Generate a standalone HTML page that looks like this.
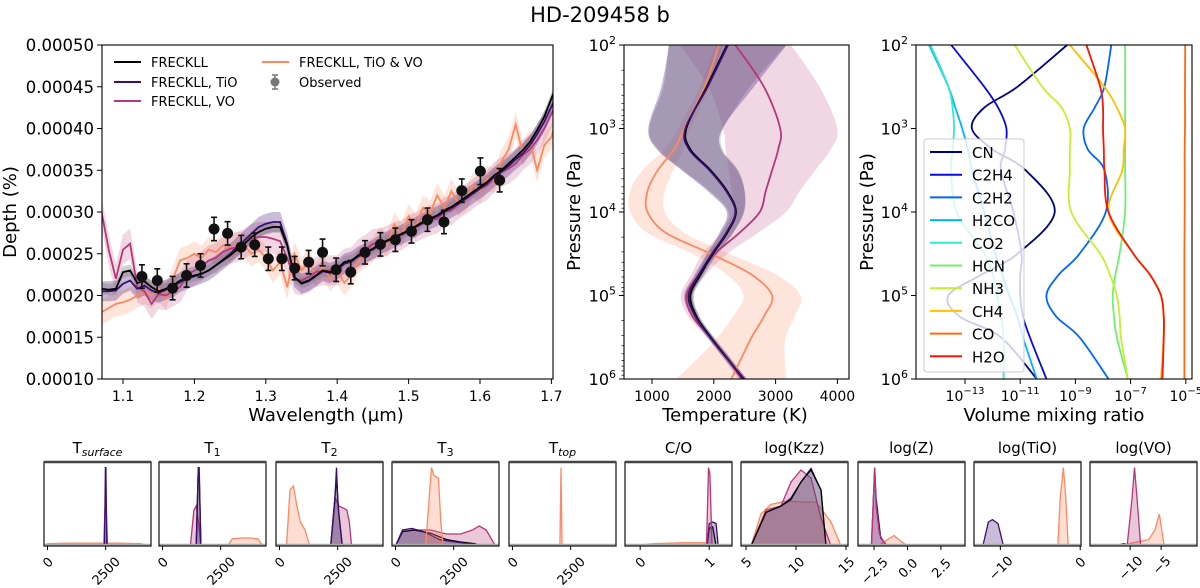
<!DOCTYPE html>
<html><head><meta charset="utf-8"><style>
html,body{margin:0;padding:0;background:#fff;}
svg{display:block;font-family:"DejaVu Sans","Liberation Sans",sans-serif;}
</style></head><body>
<svg id="fig" width="1200" height="588" viewBox="0 0 1200 588" xmlns="http://www.w3.org/2000/svg">
<text x="600" y="22" text-anchor="middle" font-size="21">HD-209458 b</text>
</svg>
<script>
// ---------- Panel 1: spectrum data ----------
const wavelengths=[1.07,1.08,1.09,1.10,1.11,1.12,1.13,1.14,1.15,1.16,1.17,1.18,1.19,1.20,1.21,1.22,1.23,1.24,1.25,1.26,1.27,1.28,1.29,1.30,1.31,1.32,1.33,1.34,1.35,1.36,1.37,1.38,1.39,1.40,1.41,1.42,1.43,1.44,1.45,1.46,1.47,1.48,1.49,1.50,1.51,1.52,1.53,1.54,1.55,1.56,1.57,1.58,1.59,1.60,1.61,1.62,1.63,1.64,1.65,1.66,1.67,1.68,1.69,1.70,1.71];
const depthFreckll=[2.08,2.07,2.08,2.28,2.30,2.15,2.17,2.10,2.05,2.08,2.12,2.18,2.22,2.24,2.26,2.30,2.36,2.42,2.48,2.55,2.62,2.70,2.76,2.80,2.82,2.82,2.60,2.22,2.15,2.18,2.24,2.30,2.28,2.32,2.40,2.42,2.48,2.52,2.56,2.62,2.66,2.70,2.74,2.78,2.83,2.88,2.92,2.96,3.02,3.06,3.12,3.18,3.24,3.30,3.36,3.44,3.50,3.58,3.66,3.74,3.84,3.98,4.14,4.36,4.58];
const depthTiO=[2.05,2.05,2.06,2.14,2.18,2.08,2.12,2.06,2.03,2.07,2.10,2.16,2.20,2.23,2.26,2.30,2.36,2.43,2.50,2.58,2.66,2.74,2.82,2.86,2.88,2.88,2.62,2.22,2.14,2.17,2.23,2.29,2.27,2.31,2.38,2.41,2.47,2.51,2.55,2.61,2.65,2.69,2.73,2.77,2.82,2.87,2.91,2.95,3.00,3.05,3.10,3.16,3.22,3.28,3.34,3.42,3.48,3.55,3.63,3.70,3.80,3.93,4.08,4.26,4.45];
const depthVO=[3.0,2.55,2.2,2.55,2.62,2.1,2.05,1.9,2.02,2.0,2.05,2.1,2.25,2.3,2.35,2.42,2.45,2.52,2.56,2.58,2.62,2.68,2.7,2.7,2.68,2.65,2.45,2.2,2.18,2.22,2.28,2.3,2.3,2.3,2.38,2.4,2.5,2.55,2.62,2.62,2.66,2.7,2.72,2.78,2.82,2.86,2.9,2.92,3.0,3.02,3.1,3.15,3.22,3.28,3.32,3.42,3.48,3.52,3.58,3.68,3.75,3.86,4.0,4.18,4.32];
const depthTiOVO=[1.8,1.85,1.9,1.92,1.95,2.0,2.05,2.0,2.08,1.98,2.2,2.42,2.45,2.5,2.45,2.55,2.52,2.6,2.55,2.62,2.6,2.5,2.55,2.45,2.3,2.4,2.1,2.5,2.3,2.4,2.25,2.35,2.2,2.3,2.15,2.25,2.42,2.48,2.55,2.68,2.6,2.85,2.72,2.95,2.82,3.05,2.98,3.2,3.05,3.25,3.1,3.15,3.32,3.25,3.4,3.38,3.6,3.75,4.05,3.7,3.85,3.5,3.8,3.9,4.2];
const obsWl=[1.1265,1.148,1.1695,1.189,1.2085,1.2275,1.2465,1.2655,1.2845,1.3035,1.3225,1.3405,1.36,1.3795,1.3985,1.419,1.439,1.4605,1.4815,1.504,1.5265,1.5495,1.5745,1.6005,1.6275];
const obsDepth=[2.228,2.18,2.088,2.24,2.36,2.796,2.744,2.58,2.608,2.44,2.44,2.328,2.40,2.516,2.308,2.28,2.516,2.612,2.668,2.768,2.908,2.88,3.256,3.488,3.38];
const obsErr=[0.14,0.14,0.14,0.14,0.14,0.14,0.14,0.14,0.14,0.14,0.14,0.14,0.14,0.16,0.14,0.14,0.14,0.14,0.14,0.14,0.14,0.14,0.14,0.16,0.14];
const depthTicks=[1.0,1.5,2.0,2.5,3.0,3.5,4.0,4.5,5.0];
const depthTickLabels=["0.00010","0.00015","0.00020","0.00025","0.00030","0.00035","0.00040","0.00045","0.00050"];
const wlTicks=[1.1,1.2,1.3,1.4,1.5,1.6,1.7];
// ---------- Panel 2: TP profiles ----------
const tpLogP=[2,2.5,3,3.25,3.5,3.75,4,4.25,4.5,4.75,5,5.25,5.5,5.75,6];
const tpFreckll=[2216,1885,1555,1621,1950,2216,2360,2216,1985,1786,1621,1720,1950,2216,2480];
const tpTiO=[2230,1900,1540,1600,1930,2200,2350,2200,1970,1760,1590,1700,1940,2210,2490];
const tpVO=[2348,2811,3075,3042,2943,2840,2744,2414,2018,1753,1555,1654,1950,2216,2447];
const tpTiOVO=[2084,1852,1522,1357,1093,927,927,1225,1950,2612,2943,2811,2612,2447,2282];
const tpSpreadFreckll=[950,700,600,520,450,280,120,100,80,70,60,50,50,50,50];
const tpSpreadTiO=[950,750,600,520,450,300,140,110,80,70,70,60,50,50,50];
const tpSpreadVO=[900,900,925,850,700,550,425,300,200,120,90,70,60,60,60];
const tpSpreadTiOVO=[60,80,100,150,250,280,280,300,300,400,460,500,550,700,890];
const tempTicks=[1000,2000,3000,4000];
// ---------- Panel 3: chemistry ----------
const chemLogP=[2,2.5,2.75,3,3.25,3.5,4,4.5,4.75,5,5.25,5.5,6];
const chemNames=["CN","C2H4","C2H2","H2CO","CO2","HCN","NH3","CH4","CO","H2O"];
const chemColors=["#00007f","#0a0ae0","#0066ff","#00b4ff","#2ee8d0","#6ef06e","#c4f030","#ffc000","#ff6a10","#ff1400"];
const vmrCN=[-9.3,-11.1,-12.3,-12.75,-12.0,-10.8,-9.75,-11.1,-12.4,-13.6,-13.2,-11.7,-10.4];
const vmrC2H4=[-13.5,-12.3,-11.8,-11.5,-11.55,-11.7,-11.25,-10.95,-11.0,-11.0,-10.9,-10.65,-10.05];
const vmrC2H2=[-7.7,-7.95,-8.3,-8.7,-8.55,-7.95,-7.9,-8.85,-9.6,-10.05,-9.7,-8.85,-7.8];
const vmrH2CO=[-14.3,-13.6,-13.35,-13.1,-12.9,-12.75,-12.3,-11.9,-11.65,-11.4,-11.1,-10.9,-10.4];
const vmrCO2=[-14.25,-13.6,-13.45,-13.4,-13.45,-13.5,-13.3,-12.3,-12.0,-11.85,-11.7,-11.6,-11.6];
const vmrHCN=[-7.2,-7.2,-7.2,-7.2,-7.2,-7.2,-7.2,-7.4,-7.55,-7.65,-7.6,-7.5,-7.1];
const vmrNH3=[-11.2,-10.2,-9.5,-9.2,-9.2,-9.2,-9.15,-8.1,-7.75,-7.5,-7.4,-7.35,-7.1];
const vmrCH4=[-9.2,-7.95,-7.5,-7.2,-7.25,-7.3,-7.8,-6.9,-6.3,-5.9,-5.8,-5.8,-5.9];
const vmrCO=[-5.02,-5.03,-5.03,-5.03,-5.04,-5.04,-5.04,-5.05,-5.05,-5.05,-5.05,-5.05,-5.05];
const vmrH2O=[-8.6,-8.1,-8.0,-8.0,-7.97,-7.95,-7.8,-6.9,-6.3,-5.9,-5.8,-5.8,-5.85];
const vmrTicks=[-13,-11,-9,-7,-5];
// ---------- Bottom posteriors ----------
const postTitles=["T<sub>surface</sub>","T1","T2","T3","Ttop","C/O","log(Kzz)","log(Z)","log(TiO)","log(VO)"];
const postDomains=[[-150,4450],[-150,4450],[-150,4450],[-150,4450],[-150,4450],[-0.22,1.33],[4.5,15.2],[-3.7,4.3],[-13.3,0.1],[-16.5,0.8]];
const postTicks=[[0,2500],[0,2500],[0,2500],[0,2500],[0,2500],[0,1],[5,10,15],[-2.5,0,2.5],[-10,0],[-10,-5]];
const postTickLabels=[["0","2500"],["0","2500"],["0","2500"],["0","2500"],["0","2500"],["0","1"],["5","10","15"],["−2.5","0.0","2.5"],["−10","0"],["−10","−5"]];
// each: [panel, model(0 black,1 TiO,2 VO,3 TiO&VO), xs, heights]
const postX0=[[0,3,[-100,0,1000,2000,3000,4000,4400],[0,0.03,0.035,0.035,0.035,0.03,0]],[0,2,[2420,2470,2500,2530,2580],[0,0.45,0.5,0.45,0]],[0,1,[2450,2490,2510,2550],[0,0.98,0.98,0]]];
const postX1=[[1,3,[2800,3000,3400,3800,4100,4300],[0,0.09,0.1,0.1,0.09,0]],[1,2,[1200,1350,1450,1550,1650],[0,0.45,0.5,0.3,0]],[1,0,[1450,1530,1580,1650],[0,0.9,0.9,0]],[1,1,[1450,1540,1580,1650],[0,0.98,0.98,0]]];
const postX2=[[2,3,[300,450,600,750,900,1100,1300],[0,0.7,0.75,0.5,0.3,0.2,0]],[2,2,[2200,2400,2550,2700,2900,3000,3100],[0,0.6,0.5,0.48,0.45,0.3,0]],[2,0,[2200,2350,2450,2550,2700],[0,0.5,0.85,0.4,0]],[2,1,[2200,2380,2450,2520,2700],[0,0.6,0.98,0.5,0]]];
const postX3=[[3,2,[0,300,800,1500,2200,2800,3300,3600,3900,4300],[0,0.18,0.2,0.2,0.15,0.15,0.2,0.25,0.2,0]],[3,0,[0,300,800,1500,2200,2800,3400,3700],[0,0.18,0.2,0.16,0.08,0.05,0.03,0]],[3,1,[0,300,700,1200,1900,2600,3300,3600],[0,0.2,0.22,0.18,0.08,0.05,0.02,0]],[3,3,[1300,1450,1550,1650,1850,1950,2050],[0,0.6,0.98,0.88,0.85,0.3,0]]];
const postX4=[[4,2,[-100,500,2000,4400],[0,0.01,0.01,0]],[4,3,[2040,2085,2130],[0,0.98,0]]];
const postX5=[[5,3,[-0.2,0.2,0.6,0.95,1.0],[0,0.03,0.04,0.04,0]],[5,0,[0.97,1.0,1.05,1.1],[0,0.22,0.24,0]],[5,1,[0.97,1.0,1.05,1.1,1.13],[0,0.28,0.3,0.28,0]],[5,2,[0.96,0.99,1.01,1.04],[0,0.98,0.9,0]]];
const postX6=[[6,3,[5.5,6.5,7.5,9,10.5,12,13.5,14.5],[0,0.4,0.52,0.56,0.55,0.55,0.3,0]],[6,2,[5.5,7,8.5,9.5,10.5,11.5,12.5,13.5],[0,0.45,0.5,0.8,0.95,0.85,0.35,0]],[6,1,[5.5,7,8.5,9.5,10.5,11.5,12.5,13],[0,0.42,0.5,0.6,0.8,0.97,0.7,0]],[6,0,[5.5,7,8.5,9.5,10.5,11.5,12.5,13],[0,0.42,0.5,0.58,0.8,0.95,0.7,0]]];
const postX7=[[7,3,[-2.2,-1.5,-1.0,-0.5,0],[0,0.08,0.13,0.06,0]],[7,1,[-2.7,-2.45,-2.35,-2.0,-1.5],[0,0.98,0.6,0.1,0]],[7,2,[-2.7,-2.45,-2.35,-2.1,-1.6],[0,0.98,0.5,0.15,0]]];
const postX8=[[8,1,[-12.2,-11.5,-11,-10.3,-9.6],[0,0.3,0.33,0.28,0]],[8,3,[-2.8,-2.5,-2.1,-1.8,-1.5],[0,0.6,0.98,0.6,0]]];
const postX9=[[9,3,[-12,-9,-7,-6,-5.3,-4.5],[0,0.05,0.08,0.2,0.4,0]],[9,2,[-10.5,-9.7,-9.3,-8.9,-8.3],[0,0.6,0.98,0.6,0]],[9,1,[-12.5,-11,-10],[0,0.03,0]]];
</script>
<script>
const NS='http://www.w3.org/2000/svg';
const svg=document.getElementById('fig');
function mk(tag,attrs,parent){const e=document.createElementNS(NS,tag);for(const k in attrs)e.setAttribute(k,attrs[k]);(parent||svg).appendChild(e);return e;}
function lin(pts){return 'M'+pts.map(p=>p[0].toFixed(1)+','+p[1].toFixed(1)).join('L');}
function smooth(pts){let d='M'+pts[0][0].toFixed(1)+','+pts[0][1].toFixed(1);const n=pts.length;
 for(let i=0;i<n-1;i++){const p0=pts[Math.max(i-1,0)],p1=pts[i],p2=pts[i+1],p3=pts[Math.min(i+2,n-1)];
  const c1=[p1[0]+(p2[0]-p0[0])/6,p1[1]+(p2[1]-p0[1])/6],c2=[p2[0]-(p3[0]-p1[0])/6,p2[1]-(p3[1]-p1[1])/6];
  d+='C'+c1[0].toFixed(1)+','+c1[1].toFixed(1)+' '+c2[0].toFixed(1)+','+c2[1].toFixed(1)+' '+p2[0].toFixed(1)+','+p2[1].toFixed(1);}
 return d;}
const MC=['#000000','#3b0f70','#b73779','#fc8961'];
const MF=['rgba(120,120,120,0.35)','rgba(59,15,112,0.28)','rgba(183,55,121,0.2)','rgba(252,137,97,0.22)'];
const defs=mk('defs',{});
function clip(id,x,y,w,h){const c=mk('clipPath',{id:id},defs);mk('rect',{x:x,y:y,width:w,height:h},c);}

// ===== Panel 1 =====
const A={x0:102,x1:553,y0:45,y1:379};
const sx=l=>123+(l-1.1)*714;
const sy=d=>45+(5-d)/4*334;
clip('c1',A.x0,A.y0,A.x1-A.x0,A.y1-A.y0);
const g1=mk('g',{'clip-path':'url(#c1)'});


const models=[depthFreckll,depthTiO,depthVO,depthTiOVO];
const spreads=[0.07,0.12,0.18,0.15];
const mNames=['freckll','freckll-tio','freckll-vo','freckll-tio-vo'];
[3,2,1,0].forEach(m=>{const v=models[m];
 const up=wavelengths.map((l,i)=>[sx(l),sy(v[i]+spreads[m])]);
 const dn=wavelengths.map((l,i)=>[sx(l),sy(v[i]-spreads[m])]).reverse();
 const b=mk('path',{d:lin(up.concat(dn))+'Z',fill:MF[m],stroke:'none'},g1);
 
 });
[3,2,1,0].forEach(m=>{const v=models[m];
 const p=mk('path',{d:lin(wavelengths.map((l,i)=>[sx(l),sy(v[i])])),fill:'none',stroke:MC[m],'stroke-width':1.8},g1);
 
 });
obsWl.forEach((l,i)=>{const x=sx(l);
 const e=mk('path',{d:`M${x},${sy(obsDepth[i]+obsErr[i])}V${sy(obsDepth[i]-obsErr[i])}M${x-3},${sy(obsDepth[i]+obsErr[i])}H${x+3}M${x-3},${sy(obsDepth[i]-obsErr[i])}H${x+3}`,stroke:'#111','stroke-width':1.6,fill:'none'},g1);
 
 
 const c=mk('circle',{cx:x,cy:sy(obsDepth[i]),r:5.5,fill:'#111'},g1);
 
 });
const f1=mk('rect',{x:A.x0,y:A.y0,width:A.x1-A.x0,height:A.y1-A.y0,fill:'none',stroke:'#000','stroke-width':1.1});


depthTicks.forEach((d,i)=>{const y=sy(d);mk('line',{x1:A.x0-5,x2:A.x0,y1:y,y2:y,stroke:'#000'});
 const t=mk('text',{x:A.x0-8,y:y+6,'text-anchor':'end','font-size':16.5});t.textContent=depthTickLabels[i];
 
 });
wlTicks.forEach(l=>{const x=sx(l);mk('line',{x1:x,x2:x,y1:A.y1,y2:A.y1+5,stroke:'#000'});
 const t=mk('text',{x:x,y:A.y1+22,'text-anchor':'middle','font-size':14});t.textContent=l.toFixed(1);
 
 });
let t=mk('text',{x:326,y:421,'text-anchor':'middle','font-size':18});t.textContent='Wavelength (µm)';


t=mk('text',{x:0,y:0,'text-anchor':'middle','font-size':18,transform:'translate(16,212) rotate(-90)'});t.textContent='Depth (%)';


// legend
const leg1=[['FRECKLL',0,114,62],['FRECKLL, TiO',1,114,82],['FRECKLL, VO',2,114,101],['FRECKLL, TiO & VO',3,262,62]];
leg1.forEach(L=>{const g=mk('g',{});
 
 
 mk('line',{x1:L[2],x2:L[2]+27,y1:L[3],y2:L[3],stroke:MC[L[1]],'stroke-width':2},g);
 const tt=mk('text',{x:L[2]+37,y:L[3]+5,'font-size':13},g);tt.textContent=L[0];});
{const g=mk('g',{});
 
 
 mk('path',{d:'M275,75V89M272,75H278M272,89H278',stroke:'#777','stroke-width':1.4},g);
 mk('circle',{cx:275,cy:82,r:4.5,fill:'#777'},g);
 const tt=mk('text',{x:299,y:87,'font-size':13},g);tt.textContent='Observed';}

// ===== Panel 2 =====
const B={x0:624,x1:849,y0:45,y1:379};
const tx=T=>652+(T-1000)*0.0618;
const py=lp=>45+(lp-2)*83.5;
clip('c2',B.x0,B.y0,B.x1-B.x0,B.y1-B.y0);
const g2=mk('g',{'clip-path':'url(#c2)'});


const tps=[tpFreckll,tpTiO,tpVO,tpTiOVO],tsp=[tpSpreadFreckll,tpSpreadTiO,tpSpreadVO,tpSpreadTiOVO];
const tpFill=['rgba(160,160,160,0.45)','rgba(59,15,112,0.3)','rgba(183,55,121,0.2)','rgba(252,137,97,0.22)'];
[3,2,0,1].forEach(m=>{const v=tps[m],s=tsp[m];
 const L=tpLogP.map((p,i)=>[tx(v[i]-s[i]),py(p)]);
 const R=tpLogP.map((p,i)=>[tx(v[i]+s[i]),py(p)]).reverse();
 const d=smooth(L)+smooth(R).replace('M','L')+'Z';
 const b=mk('path',{d:d,fill:tpFill[m]},g2);
 
 });
[3,2,0,1].forEach(m=>{const v=tps[m];
 const p=mk('path',{d:smooth(tpLogP.map((q,i)=>[tx(v[i]),py(q)])),fill:'none',stroke:MC[m],'stroke-width':1.8},g2);
 
 });
const f2=mk('rect',{x:B.x0,y:B.y0,width:B.x1-B.x0,height:B.y1-B.y0,fill:'none',stroke:'#000','stroke-width':1.1});


function logYAxis(x0,prefix){
 for(let e=2;e<=6;e++){const y=py(e);mk('line',{x1:x0-5,x2:x0,y1:y,y2:y,stroke:'#000'});
  const tt=mk('text',{x:x0-8,y:y+6,'text-anchor':'end','font-size':16});
  tt.innerHTML='10<tspan font-size="11" dy="-7">'+e+'</tspan>';
  
  
  if(e<6)for(let k=2;k<10;k++){const yy=py(e+Math.log10(k));mk('line',{x1:x0-2.5,x2:x0,y1:yy,y2:yy,stroke:'#000','stroke-width':0.7});}}
}
logYAxis(B.x0,'tp');
tempTicks.forEach(T=>{const x=tx(T);mk('line',{x1:x,x2:x,y1:B.y1,y2:B.y1+5,stroke:'#000'});
 const tt=mk('text',{x:x,y:B.y1+22,'text-anchor':'middle','font-size':14});tt.textContent=T;
 
 });
t=mk('text',{x:735,y:421,'text-anchor':'middle','font-size':18});t.textContent='Temperature (K)';


t=mk('text',{x:0,y:0,'text-anchor':'middle','font-size':18,transform:'translate(580,212) rotate(-90)'});t.textContent='Pressure (Pa)';



// ===== Panel 3 =====
const C={x0:916,x1:1192,y0:45,y1:379};
const vx=v=>965+(v+13)*27.6;
clip('c3',C.x0,C.y0,C.x1-C.x0,C.y1-C.y0);
const g3=mk('g',{'clip-path':'url(#c3)'});


const vmrs=[vmrCN,vmrC2H4,vmrC2H2,vmrH2CO,vmrCO2,vmrHCN,vmrNH3,vmrCH4,vmrCO,vmrH2O];
vmrs.forEach((v,k)=>{const p=mk('path',{d:smooth(chemLogP.map((q,i)=>[vx(v[i]),py(q)])),fill:'none',stroke:chemColors[k],'stroke-width':1.8},g3);
 
 });
const f3=mk('rect',{x:C.x0,y:C.y0,width:C.x1-C.x0,height:C.y1-C.y0,fill:'none',stroke:'#000','stroke-width':1.1});


// y axis of panel 3 (same log scale)
for(let e=2;e<=6;e++){const y=py(e);mk('line',{x1:C.x0-5,x2:C.x0,y1:y,y2:y,stroke:'#000'});
 const tt=mk('text',{x:C.x0-8,y:y+6,'text-anchor':'end','font-size':16});
 tt.innerHTML='10<tspan font-size="11" dy="-7">'+e+'</tspan>';
 
 }
vmrTicks.forEach(v=>{const x=vx(v);mk('line',{x1:x,x2:x,y1:C.y1,y2:C.y1+5,stroke:'#000'});
 const tt=mk('text',{x:x,y:C.y1+22,'text-anchor':'middle','font-size':14});
 tt.innerHTML='10<tspan font-size="10" dy="-7">−'+(-v)+'</tspan>';
 
 });
t=mk('text',{x:1054,y:421,'text-anchor':'middle','font-size':18});t.textContent='Volume mixing ratio';


t=mk('text',{x:0,y:0,'text-anchor':'middle','font-size':18,transform:'translate(873,212) rotate(-90)'});t.textContent='Pressure (Pa)';


const lg=mk('rect',{x:924,y:139,width:100,height:233,rx:3,fill:'rgba(255,255,255,0.8)',stroke:'#ccc'});


chemNames.forEach((n,k)=>{const y=152+k*22.7;const g=mk('g',{});
 
 
 mk('line',{x1:930,x2:962,y1:y,y2:y,stroke:chemColors[k],'stroke-width':2},g);
 const tt=mk('text',{x:972,y:y+6,'font-size':15},g);tt.textContent=n;});

// ===== Bottom posteriors =====
const PW=107,PY0=462,PY1=546,PX=[44,159,276,392,509,625,741,858,974,1090];
const allPost=[].concat(postX0,postX1,postX2,postX3,postX4,postX5,postX6,postX7,postX8,postX9);
PX.forEach((x0,k)=>{clip('cp'+k,x0,PY0,PW,PY1-PY0);
 const dom=postDomains[k];const fx=v=>x0+(v-dom[0])/(dom[1]-dom[0])*PW;
 const fy=h=>PY1-h*(PY1-PY0-4);
 const g=mk('g',{'clip-path':'url(#cp'+k+')'});
 
 
 allPost.filter(s=>s[0]===k).forEach(s=>{const pts=s[2].map((xv,i)=>[fx(xv),fy(s[3][i])]);
  const a=mk('path',{d:lin(pts)+'Z',fill:MF[s[1]].replace(/0\.\d+\)$/,'0.28)'),stroke:MC[s[1]],'stroke-width':1.3},g);
  
  });
 mk('line',{x1:x0,x2:x0+PW,y1:PY1-1,y2:PY1-1,stroke:'#aaa','stroke-width':2.5},g);
 const fr=mk('rect',{x:x0,y:PY0,width:PW,height:PY1-PY0,fill:'none',stroke:'#222','stroke-width':1.3});
 
 
 mk('line',{x1:x0,x2:x0+PW,y1:PY0,y2:PY0,stroke:'#444','stroke-width':2.5});
 const tl=mk('text',{x:x0+PW/2,y:453,'text-anchor':'middle','font-size':15});
 
 
 const ttl=postTitles[k];
 if(k===0)tl.innerHTML='T<tspan font-size="11" font-style="italic" dy="3">surface</tspan>';
 else if(k>=1&&k<=3)tl.innerHTML='T<tspan font-size="11" dy="3">'+ttl[1]+'</tspan>';
 else if(k===4)tl.innerHTML='T<tspan font-size="11" font-style="italic" dy="3">top</tspan>';
 else tl.textContent=ttl;
 postTicks[k].forEach((v,i)=>{const x=fx(v);mk('line',{x1:x,x2:x,y1:PY1,y2:PY1+4,stroke:'#000'});
  const lab=postTickLabels[k][i];const cy=555+(lab.length*8+12)*0.707/2;
  const tt=mk('text',{x:0,y:0,'text-anchor':'middle','font-size':13,transform:`translate(${x},${cy}) rotate(-45) translate(0,5)`});
  tt.textContent=lab;
  
  });
});
</script>
</body></html>
